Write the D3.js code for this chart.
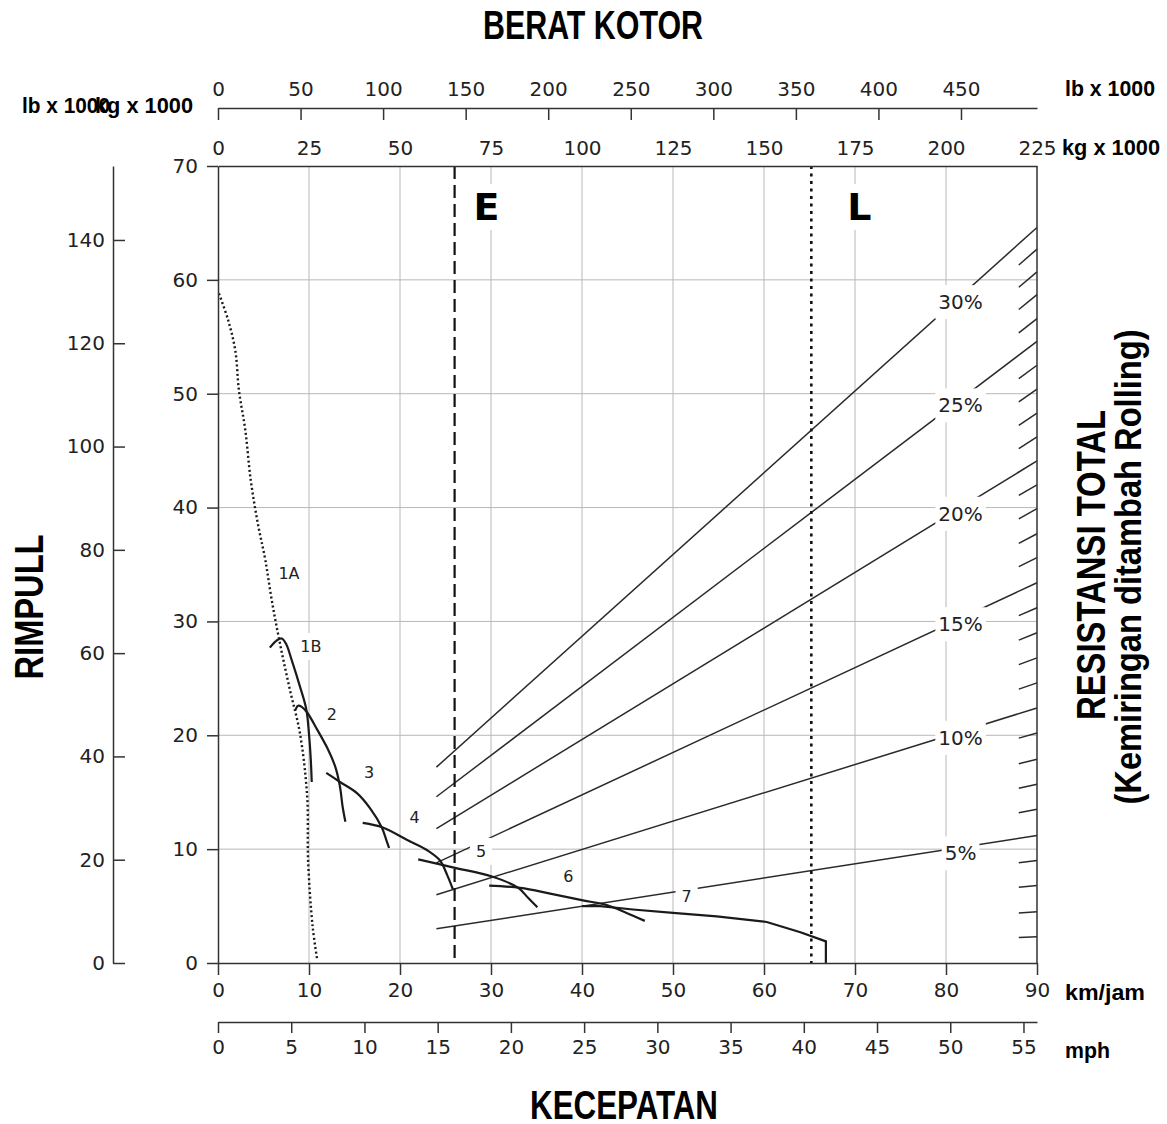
<!DOCTYPE html>
<html>
<head>
<meta charset="utf-8">
<script src="https://cdn.jsdelivr.net/npm/d3@7"></script>
<style>
body { margin: 0; background: #fff; }
.tick text { font-family: "DejaVu Sans", sans-serif; font-size: 20px; fill: #222; }
.bold { font-family: "Liberation Sans", Arial, sans-serif; font-weight: bold; fill: #000; }
.gear { font-family: "DejaVu Sans", sans-serif; font-size: 16px; fill: #222; }
.grade { font-family: "DejaVu Sans", sans-serif; font-size: 20px; fill: #222; }
.mark { font-family: "DejaVu Sans", sans-serif; font-weight: bold; font-size: 38px; fill: #000; }
</style>
</head>
<body>
<svg id="chart" width="1167" height="1124"></svg>
<script>
var LB_PER_KG = 2.20462, KM_PER_MILE = 1.609344

// tick labels
var kmTicks = [0, 10, 20, 30, 40, 50, 60, 70, 80, 90]
var mphTicks = [0, 5, 10, 15, 20, 25, 30, 35, 40, 45, 50, 55]
var kgTicks = [0, 25, 50, 75, 100, 125, 150, 175, 200, 225]
var lbTicks = [0, 50, 100, 150, 200, 250, 300, 350, 400, 450]
var rimKgTicks = [0, 10, 20, 30, 40, 50, 60, 70]
var rimLbTicks = [0, 20, 40, 60, 80, 100, 120, 140]

// gear curves: [speed km/jam, rimpull kg x 1000]
var gearNames = ['1A', '1B', '2', '3', '4', '5', '6', '7']
var gear1A = [[0.1, 58.8], [1.1, 56.5], [1.9, 53.8], [2.3, 50.3], [3.0, 46.8], [3.6, 42.4], [4.4, 38.5],
              [5.2, 35.4], [5.9, 31.9], [6.8, 28.1], [7.9, 24.0], [9.0, 20.2], [9.8, 14.6], [9.9, 9.0],
              [10.4, 3.2], [10.9, 0.3]]
var gear1B = [[5.7, 27.7], [6.4, 28.3], [7.0, 28.5], [7.5, 28.0], [8.1, 26.6], [9.0, 24.3], [9.7, 22.3],
              [10.0, 20.1], [10.2, 17.8], [10.3, 15.9]]
var gear2 = [[8.5, 22.2], [8.8, 22.6], [9.2, 22.5], [9.8, 22.0], [10.9, 20.5], [12.0, 18.9], [12.9, 17.2],
             [13.4, 15.5], [13.7, 13.7], [14.0, 12.4]]
var gear3 = [[11.9, 16.7], [13.4, 15.9], [15.3, 14.9], [16.7, 13.6], [18.0, 11.9], [18.5, 10.8], [18.8, 10.1]]
var gear4 = [[15.9, 12.3], [18.1, 11.9], [20.8, 10.8], [23.0, 9.9], [24.4, 9.0], [25.2, 7.7], [25.8, 6.5]]
var gear5 = [[22.0, 9.1], [25.8, 8.4], [30.1, 7.6], [33.0, 6.6], [34.1, 5.7], [35.1, 4.9]]
var gear6 = [[29.8, 6.8], [33.2, 6.6], [36.5, 6.1], [40.1, 5.5], [42.7, 5.1], [44.9, 4.4], [46.9, 3.7]]
var gear7 = [[40.0, 5.0], [42.0, 5.0], [45.6, 4.7], [50.0, 4.4], [54.8, 4.1], [60.3, 3.6], [64.0, 2.7],
             [66.8, 1.9], [66.8, 0]]
var gearLabelSpeed = [7.8, 10.2, 12.5, 16.6, 21.6, 28.9, 38.5, 51.5]
var gearLabelRimpull = [34.2, 27.8, 21.8, 16.7, 12.8, 9.8, 7.6, 5.8]

// total resistance lines: rimpull (kg x 1000) at GVW 60 and 225 (kg x 1000)
var gradePct = [5, 10, 15, 20, 25, 30]
var gradeStartWeight = 60, gradeEndWeight = 225
var gradeAtStart = [3.0, 6.0, 8.8, 11.8, 14.6, 17.2]
var gradeAtEnd = [11.2, 22.4, 33.4, 44.1, 54.6, 64.6]
var gradeLabelWeight = 204
// short marks for the in-between percentages, rimpull at 225
var minorPct = [1, 2, 3, 4, 6, 7, 8, 9, 11, 12, 13, 14, 16, 17, 18, 19, 21, 22, 23, 24, 26, 27, 28, 29]
var minorAtEnd = [2.3, 4.5, 6.8, 9.0, 13.5, 15.7, 17.9, 20.2, 24.6, 26.8, 29.0, 31.2,
                  35.6, 37.7, 39.9, 42.0, 46.2, 48.3, 50.4, 52.5, 56.6, 58.7, 60.7, 62.7]
var minorStartWeight = 220

// empty / loaded weights (kg x 1000)
var weightMarks = ['E', 'L']
var weightValues = [65, 163]

var svg = d3.select('#chart')
var x = d3.scaleLinear([0, 90], [218, 1037])
var xKg = d3.scaleLinear([0, 225], [218, 1037])
var xLb = d3.scaleLinear([0, 225 * LB_PER_KG], [218, 1037])
var xMph = d3.scaleLinear([0, 90 / KM_PER_MILE], [218, 1037])
var y = d3.scaleLinear([0, 70], [963, 166])
var yLb = d3.scaleLinear([0, 70 * LB_PER_KG], [963, 166])

// grid
var grid = svg.append('g').attr('stroke', '#b8b8b8').attr('stroke-width', 1)
grid.selectAll('.vg').data(kmTicks.slice(1, -1)).join('line').attr('class', 'vg')
  .attr('x1', d => x(d)).attr('x2', d => x(d)).attr('y1', y(0)).attr('y2', y(70))
grid.selectAll('.hg').data(rimKgTicks.slice(1, -1)).join('line').attr('class', 'hg')
  .attr('x1', x(0)).attr('x2', x(90)).attr('y1', d => y(d)).attr('y2', d => y(d))

// grade lines
var grades = svg.append('g').attr('stroke', '#2a2a2a').attr('stroke-width', 1.5)
grades.selectAll('.gl').data(gradePct).join('line').attr('class', 'gl')
  .attr('x1', xKg(gradeStartWeight)).attr('y1', (d, i) => y(gradeAtStart[i]))
  .attr('x2', xKg(gradeEndWeight)).attr('y2', (d, i) => y(gradeAtEnd[i]))
// the short marks are the last bit of a line through the origin
grades.selectAll('.ml').data(minorAtEnd).join('line').attr('class', 'ml')
  .attr('x1', xKg(minorStartWeight)).attr('y1', d => y(d * minorStartWeight / gradeEndWeight))
  .attr('x2', xKg(gradeEndWeight)).attr('y2', d => y(d))

// E and L
svg.append('line').attr('x1', xKg(weightValues[0])).attr('x2', xKg(weightValues[0]))
  .attr('y1', y(70)).attr('y2', y(0)).attr('stroke', '#111').attr('stroke-width', 2.2)
  .attr('stroke-dasharray', '13,6')
svg.append('line').attr('x1', xKg(weightValues[1])).attr('x2', xKg(weightValues[1]))
  .attr('y1', y(70)).attr('y2', y(0)).attr('stroke', '#111').attr('stroke-width', 2.6)
  .attr('stroke-dasharray', '3,4.5')

// gear curves
var smooth = d3.line().x(d => x(d[0])).y(d => y(d[1])).curve(d3.curveCatmullRom.alpha(0.5))
var straight = d3.line().x(d => x(d[0])).y(d => y(d[1]))
var curves = svg.append('g').attr('fill', 'none').attr('stroke', '#1a1a1a').attr('stroke-width', 2.2)
curves.append('path').attr('d', smooth(gear1A)).attr('stroke-width', 2.4).attr('stroke-dasharray', '2,2.6')
;[gear1B, gear2, gear3, gear4, gear5, gear6].forEach(g => curves.append('path').attr('d', smooth(g)))
curves.append('path').attr('d', straight(gear7))

// labels with white boxes
var boxedLabel = (parent, txt, px, py, cls, padX, padY) => {
  var g = parent.append('g')
  var t = g.append('text').attr('class', cls).attr('x', px).attr('y', py)
    .attr('text-anchor', 'middle').attr('dominant-baseline', 'central').text(txt)
  var b = t.node().getBBox()
  g.insert('rect', 'text').attr('x', b.x - padX).attr('y', b.y - padY)
    .attr('width', b.width + 2 * padX).attr('height', b.height + 2 * padY).attr('fill', '#fff')
}
var labels = svg.append('g')
gearNames.forEach((n, i) => boxedLabel(labels, n, x(gearLabelSpeed[i]), y(gearLabelRimpull[i]), 'gear', 6, 4))
gradePct.forEach((p, i) => boxedLabel(labels, p + '%', xKg(gradeLabelWeight),
  y(gradeAtEnd[i] * gradeLabelWeight / gradeEndWeight) + 6, 'grade', 3, 5))
weightMarks.forEach((m, i) => boxedLabel(labels, m, xKg(weightValues[i]) + 32 + (i ? 16 : 0) , 207, 'mark', 3, 1))

// axes
var styleAxis = g => {
  g.select('.domain').attr('stroke', '#333').attr('stroke-width', 1.5)
  g.selectAll('.tick line').attr('stroke', '#333').attr('stroke-width', 1.5)
}
svg.append('g').attr('transform', 'translate(0,963)')
  .call(d3.axisBottom(x).tickValues(kmTicks).tickSize(12).tickSizeOuter(0).tickPadding(8)).call(styleAxis)
svg.append('g').attr('transform', 'translate(0,1022)')
  .call(d3.axisBottom(xMph).tickValues(mphTicks).tickSize(11).tickSizeOuter(0).tickPadding(7)).call(styleAxis)
svg.append('g').attr('transform', 'translate(0,166)')
  .call(d3.axisTop(xKg).tickValues(kgTicks).tickSize(0).tickSizeOuter(0).tickPadding(11)).call(styleAxis)
svg.append('g').attr('transform', 'translate(0,108)')
  .call(d3.axisTop(xLb).tickValues(lbTicks).tickSize(-12).tickSizeOuter(0).tickPadding(12)).call(styleAxis)
svg.append('g').attr('transform', 'translate(218,0)')
  .call(d3.axisLeft(y).tickValues(rimKgTicks).tickSize(11).tickSizeOuter(0).tickPadding(9)).call(styleAxis)
svg.append('g').attr('transform', 'translate(113,0)')
  .call(d3.axisLeft(yLb).tickValues(rimLbTicks).tickSize(-12).tickSizeOuter(0).tickPadding(8)).call(styleAxis)
svg.append('line').attr('x1', x(90)).attr('x2', x(90)).attr('y1', y(70)).attr('y2', y(0))
  .attr('stroke', '#333').attr('stroke-width', 1.5)

// titles and unit labels (condensed bold, squeezed to the reference widths)
var boldText = (txt, px, py, size, len, anchor, rotate) => {
  var t = svg.append('text').attr('class', 'bold').attr('font-size', size)
    .attr('text-anchor', anchor).text(txt)
    .attr('textLength', len).attr('lengthAdjust', 'spacingAndGlyphs')
  if (rotate)
    t.attr('transform', 'translate(' + px + ',' + py + ') rotate(-90)')
  else
    t.attr('x', px).attr('y', py)
}
boldText('BERAT KOTOR', 593, 39, 40, 220, 'middle')
boldText('KECEPATAN', 624, 1119, 40, 188, 'middle')
boldText('RIMPULL', 43, 607, 40, 145, 'middle', true)
boldText('RESISTANSI TOTAL', 1105, 565, 40, 310, 'middle', true)
boldText('(Kemiringan ditambah Rolling)', 1141, 567, 37, 475, 'middle', true)
boldText('lb x 1000', 22, 113, 22, 88, 'start')
boldText('kg x 1000', 95, 113, 22, 98, 'start')
boldText('lb x 1000', 1065, 96, 22, 90, 'start')
boldText('kg x 1000', 1062, 155, 22, 98, 'start')
boldText('km/jam', 1065, 1000, 22, 80, 'start')
boldText('mph', 1065, 1058, 22, 45, 'start')
</script>
</body>
</html>
